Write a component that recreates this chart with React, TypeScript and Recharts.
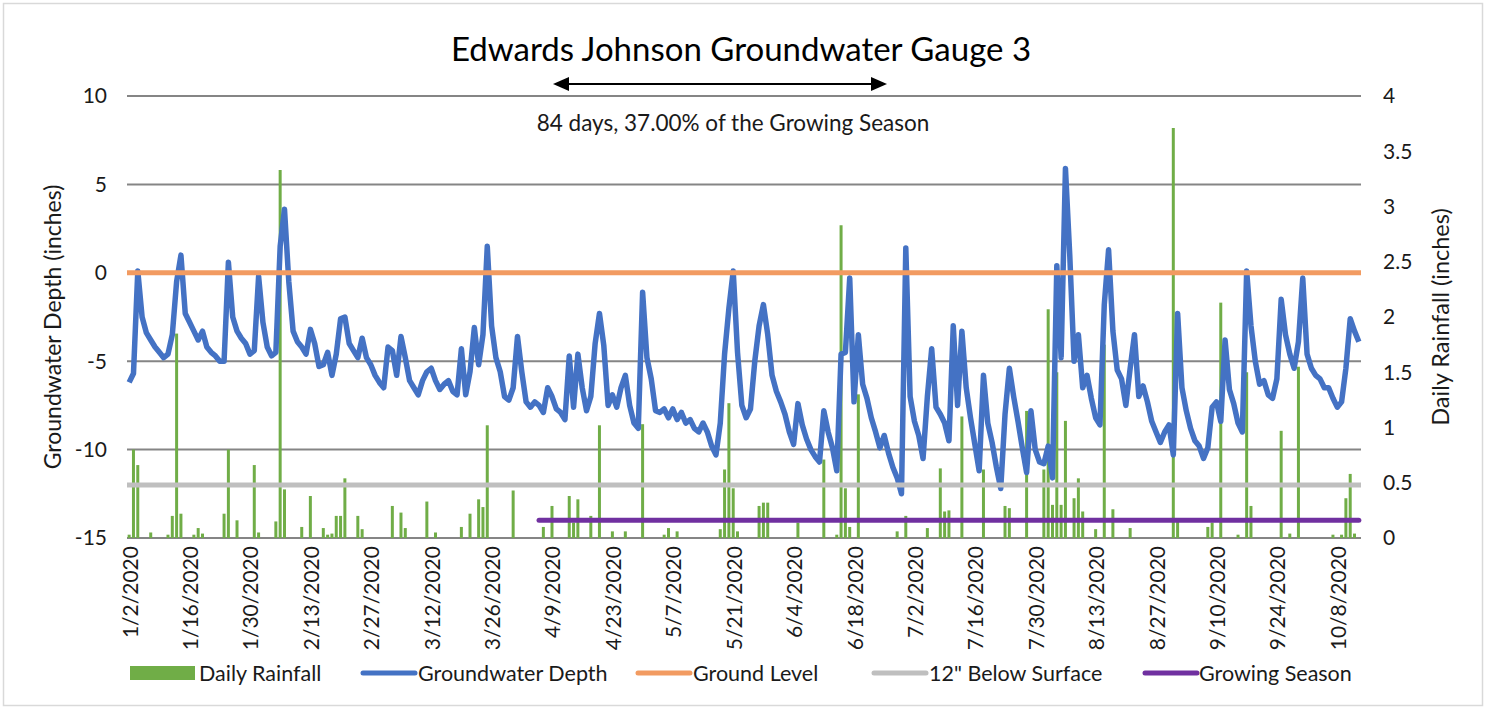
import React from 'react';
import { ComposedChart, Bar, Line, XAxis, YAxis, CartesianGrid, ReferenceLine } from 'recharts';

// one category per day, 1/2/2020 .. 10/14/2020
const START_YEAR = 2020;
const START_MONTH = 0;
const START_DAY = 2;
const DAY_COUNT = 286;

const dates: string[] = Array.from({ length: DAY_COUNT }, (_, i) => {
  const d = new Date(Date.UTC(START_YEAR, START_MONTH, START_DAY + i));
  return `${d.getUTCMonth() + 1}/${d.getUTCDate()}/${d.getUTCFullYear()}`;
});

// groundwater depth (inches), 14 days per row
const groundwaterDepth = [
  -6.2, -5.7, 0.1, -2.5, -3.4, -3.8, -4.2, -4.5, -4.8, -4.6, -3.5, -0.5, 1.0, -2.3,
  -2.8, -3.3, -3.8, -3.3, -4.2, -4.5, -4.7, -5.0, -5.0, 0.6, -2.5, -3.3, -3.7, -4.0,
  -4.6, -4.4, -0.2, -2.8, -4.2, -4.7, -4.5, 1.5, 3.6, -0.5, -3.3, -3.9, -4.2, -4.6,
  -3.2, -4.0, -5.3, -5.2, -4.5, -5.8, -4.6, -2.6, -2.5, -4.0, -4.4, -4.8, -3.7, -4.8,
  -5.2, -5.8, -6.2, -6.5, -4.2, -4.4, -5.8, -3.6, -4.8, -6.1, -6.5, -6.9, -6.1, -5.6,
  -5.4, -6.1, -6.6, -6.3, -6.1, -6.7, -6.9, -4.3, -6.9, -5.6, -3.1, -5.2, -3.5, 1.5,
  -3.0, -4.8, -5.6, -7.0, -7.2, -6.5, -3.6, -5.6, -7.3, -7.6, -7.3, -7.5, -7.9, -6.5,
  -7.0, -7.7, -7.9, -8.3, -4.7, -7.6, -4.6, -6.5, -7.8, -7.0, -4.0, -2.3, -4.1, -7.5,
  -6.9, -7.6, -6.5, -5.8, -7.5, -8.5, -8.8, -1.1, -4.8, -6.0, -7.8, -7.9, -7.7, -8.2,
  -7.7, -8.3, -7.9, -8.5, -8.3, -8.8, -9.0, -8.5, -9.0, -9.8, -10.3, -8.5, -4.6, -2.0,
  0.1, -4.5, -7.5, -8.2, -7.7, -5.0, -3.0, -1.8, -3.5, -5.8, -6.7, -7.3, -8.0, -9.0,
  -9.7, -7.4, -8.6, -9.4, -10.0, -10.4, -10.7, -7.8, -9.0, -9.9, -11.2, -4.6, -4.5, -0.3,
  -7.3, -3.5, -6.3, -7.1, -8.2, -9.0, -9.9, -9.2, -10.2, -11.0, -11.6, -12.5, 1.4, -7.0,
  -8.4, -9.2, -10.5, -7.0, -4.3, -7.6, -8.0, -8.5, -9.5, -3.0, -7.5, -3.3, -6.5, -8.2,
  -9.7, -11.2, -5.8, -8.5, -9.6, -11.0, -12.2, -8.0, -5.4, -7.0, -8.4, -9.9, -11.3, -7.8,
  -10.0, -10.7, -10.8, -9.8, -11.6, 0.4, -4.8, 5.9, 1.0, -5.0, -3.5, -6.5, -5.8, -7.1,
  -8.2, -8.6, -1.8, 1.3, -3.3, -5.5, -6.0, -7.5, -5.4, -3.5, -7.0, -6.4, -7.3, -8.4,
  -9.0, -9.6, -9.0, -8.6, -10.3, -2.3, -6.5, -7.8, -8.8, -9.5, -9.8, -10.5, -9.9, -7.6,
  -7.3, -8.4, -3.8, -6.6, -7.4, -8.5, -9.0, 0.1, -3.0, -5.0, -6.3, -6.1, -6.9, -7.1,
  -6.0, -1.5, -3.5, -4.6, -5.4, -3.9, -0.3, -4.6, -5.4, -5.8, -6.0, -6.5, -6.5, -7.1,
  -7.6, -7.3, -5.4, -2.6, -3.3, -3.9,
];

// daily rainfall (inches), 14 days per row
const dailyRainfall = [
  0.03, 0.8, 0.66, 0, 0, 0.05, 0, 0, 0, 0.03, 0.2, 1.85, 0.22, 0,
  0, 0.03, 0.09, 0.04, 0, 0, 0, 0, 0.22, 0.8, 0, 0.16, 0, 0,
  0, 0.66, 0.05, 0, 0, 0, 0.15, 3.33, 0.44, 0, 0, 0, 0.1, 0,
  0.38, 0, 0, 0.09, 0.03, 0.04, 0.2, 0.2, 0.54, 0, 0, 0.2, 0.08, 0,
  0, 0, 0, 0, 0, 0.29, 0, 0.23, 0.09, 0, 0, 0, 0, 0.33,
  0, 0.05, 0, 0, 0, 0, 0, 0.1, 0, 0.22, 0, 0.35, 0.28, 1.02,
  0, 0, 0, 0, 0, 0.43, 0, 0, 0, 0, 0, 0, 0.1, 0,
  0.29, 0, 0, 0, 0.38, 0.14, 0.35, 0, 0, 0.2, 0, 1.02, 0, 0,
  0.06, 0, 0, 0.06, 0, 0, 0, 1.03, 0, 0, 0, 0, 0.03, 0.09,
  0, 0.06, 0, 0, 0, 0, 0, 0, 0, 0, 0, 0.08, 0.62, 1.22,
  0.45, 0.06, 0, 0, 0, 0, 0.29, 0.32, 0.32, 0, 0, 0, 0, 0,
  0, 0.14, 0, 0, 0, 0, 0, 0.71, 0, 0, 0.03, 2.83, 0.45, 0.1,
  0, 1.3, 0, 0, 0, 0, 0, 0, 0, 0, 0.06, 0, 0.2, 0,
  0, 0, 0, 0.09, 0, 0, 0.63, 0.24, 0.25, 0, 0, 1.1, 0, 0,
  0, 0, 0.62, 0, 0, 0, 0, 0.29, 0.27, 0, 0, 0, 1.15, 0,
  0, 0, 0.62, 2.07, 0.3, 1.5, 0.3, 1.06, 0, 0.36, 0.54, 0.24, 0, 0,
  0.08, 0, 1.75, 0, 0.26, 0, 0, 0, 0.09, 0, 0, 0, 0, 0,
  0, 0, 0, 0, 3.71, 0.15, 0, 0, 0, 0, 0, 0, 0.1, 0.14,
  0, 2.13, 0, 0, 0, 0.03, 0, 1.5, 0.29, 0, 0, 0, 0, 0,
  0, 0.97, 0, 0.04, 0, 1.55, 0, 0, 0, 0, 0, 0, 0, 0.03,
  0, 0.03, 0.36, 0.58, 0.04, 0,
];

const GROUND_LEVEL = 0;
const BELOW_SURFACE = -12;
const GROWING_SEASON_LEVEL = -14;
const GROWING_SEASON_START = '4/6/2020';

const leftTicks = [-15, -10, -5, 0, 5, 10];
const rightTicks = [0, 0.5, 1, 1.5, 2, 2.5, 3, 3.5, 4];

const data = dates.map((date, i) => ({
  date,
  rain: dailyRainfall[i],
  depth: groundwaterDepth[i],
}));

const FONT = 'Lato, "Open Sans", sans-serif';
const TEXT = '#1a1a1a';

const COLORS = {
  rain: '#70AD47',
  depth: '#4472C4',
  ground: '#F29B61',
  below: '#BFBFBF',
  season: '#7030A0',
  grid: '#858585',
};

const legendItems = [
  { name: 'Daily Rainfall', color: COLORS.rain, kind: 'rect', sx: 130, sw: 65, tx: 199 },
  { name: 'Groundwater Depth', color: COLORS.depth, kind: 'line', sx: 363, sw: 52, tx: 418 },
  { name: 'Ground Level', color: COLORS.ground, kind: 'line', sx: 638, sw: 52, tx: 693 },
  { name: '12" Below Surface', color: COLORS.below, kind: 'line', sx: 874, sw: 52, tx: 929 },
  { name: 'Growing Season', color: COLORS.season, kind: 'line', sx: 1145, sw: 52, tx: 1199 },
];

const DateTick = (props: any) => {
  const { x, y, payload } = props;
  return (
    <text
      x={x}
      y={y}
      transform={`rotate(-90 ${x} ${y})`}
      textAnchor="end"
      dominantBaseline="central"
      fontSize={21}
      fontFamily={FONT}
      fill={TEXT}
    >
      {payload.value}
    </text>
  );
};

const App = () => {
  return (
    <div style={{ position: 'absolute', left: 0, top: 0, width: 1487, height: 711, background: '#fff' }}>
      <ComposedChart
        width={1487}
        height={711}
        data={data}
        margin={{ top: 96, right: 0, bottom: 0, left: 0 }}
        barCategoryGap="15%"
      >
        <CartesianGrid vertical={false} yAxisId="left" stroke={COLORS.grid} strokeWidth={2} />
        <XAxis
          dataKey="date"
          interval={13}
          height={173}
          tickLine={false}
          axisLine={false}
          tick={<DateTick />}
        />
        <YAxis
          yAxisId="left"
          orientation="left"
          width={127}
          domain={[-15, 10]}
          ticks={leftTicks}
          interval={0}
          axisLine={false}
          tickLine={false}
          tickMargin={14}
          tick={{ fontSize: 21, fill: TEXT, fontFamily: FONT }}
          allowDataOverflow
        />
        <YAxis
          yAxisId="right"
          orientation="right"
          width={126}
          domain={[0, 4]}
          ticks={rightTicks}
          interval={0}
          axisLine={false}
          tickLine={false}
          tickMargin={16}
          tick={{ fontSize: 21, fill: TEXT, fontFamily: FONT }}
          allowDataOverflow
        />
        <Bar yAxisId="right" dataKey="rain" fill={COLORS.rain} isAnimationActive={false} />
        <Line
          yAxisId="left"
          type="linear"
          dataKey="depth"
          stroke={COLORS.depth}
          strokeWidth={5.5}
          strokeLinejoin="round"
          dot={false}
          activeDot={false}
          isAnimationActive={false}
        />
        <ReferenceLine yAxisId="left" y={GROUND_LEVEL} stroke={COLORS.ground} strokeWidth={5} />
        <ReferenceLine yAxisId="left" y={BELOW_SURFACE} stroke={COLORS.below} strokeWidth={5} />
        <ReferenceLine
          yAxisId="left"
          segment={[
            { x: GROWING_SEASON_START, y: GROWING_SEASON_LEVEL },
            { x: dates[dates.length - 1], y: GROWING_SEASON_LEVEL },
          ]}
          stroke={COLORS.season}
          strokeWidth={5}
          strokeLinecap="round"
        />
      </ComposedChart>

      <svg
        width={1487}
        height={711}
        style={{ position: 'absolute', left: 0, top: 0, pointerEvents: 'none' }}
        fontFamily={FONT}
      >
        <rect x={3.5} y={3.5} width={1479} height={702} fill="none" stroke="#d9d9d9" strokeWidth={1.5} />
        <text x={741} y={48} textAnchor="middle" dominantBaseline="central" fontSize={33} fill="#000">
          Edwards Johnson Groundwater Gauge 3
        </text>

        {/* duration annotation */}
        <line x1={566} y1={84} x2={874} y2={84} stroke="#000" strokeWidth={2} />
        <polygon points="553,84 569,77 569,91" fill="#000" />
        <polygon points="887,84 871,77 871,91" fill="#000" />
        <text x={733} y={122} textAnchor="middle" dominantBaseline="central" fontSize={22.5} fill={TEXT}>
          84 days, 37.00% of the Growing Season
        </text>

        <text
          x={52}
          y={327}
          transform="rotate(-90 52 327)"
          textAnchor="middle"
          dominantBaseline="central"
          fontSize={23}
          fill={TEXT}
        >
          Groundwater Depth (inches)
        </text>
        <text
          x={1440}
          y={317}
          transform="rotate(-90 1440 317)"
          textAnchor="middle"
          dominantBaseline="central"
          fontSize={23.5}
          fill={TEXT}
        >
          Daily Rainfall (inches)
        </text>

        {/* legend */}
        {legendItems.map((item) => (
          <g key={item.name}>
            {item.kind === 'rect' ? (
              <rect x={item.sx} y={666} width={item.sw} height={14} fill={item.color} />
            ) : (
              <line
                x1={item.sx}
                y1={673}
                x2={item.sx + item.sw}
                y2={673}
                stroke={item.color}
                strokeWidth={5}
                strokeLinecap="round"
              />
            )}
            <text x={item.tx} y={673} dominantBaseline="central" fontSize={21.5} fill={TEXT}>
              {item.name}
            </text>
          </g>
        ))}
      </svg>
    </div>
  );
};

export default App;
